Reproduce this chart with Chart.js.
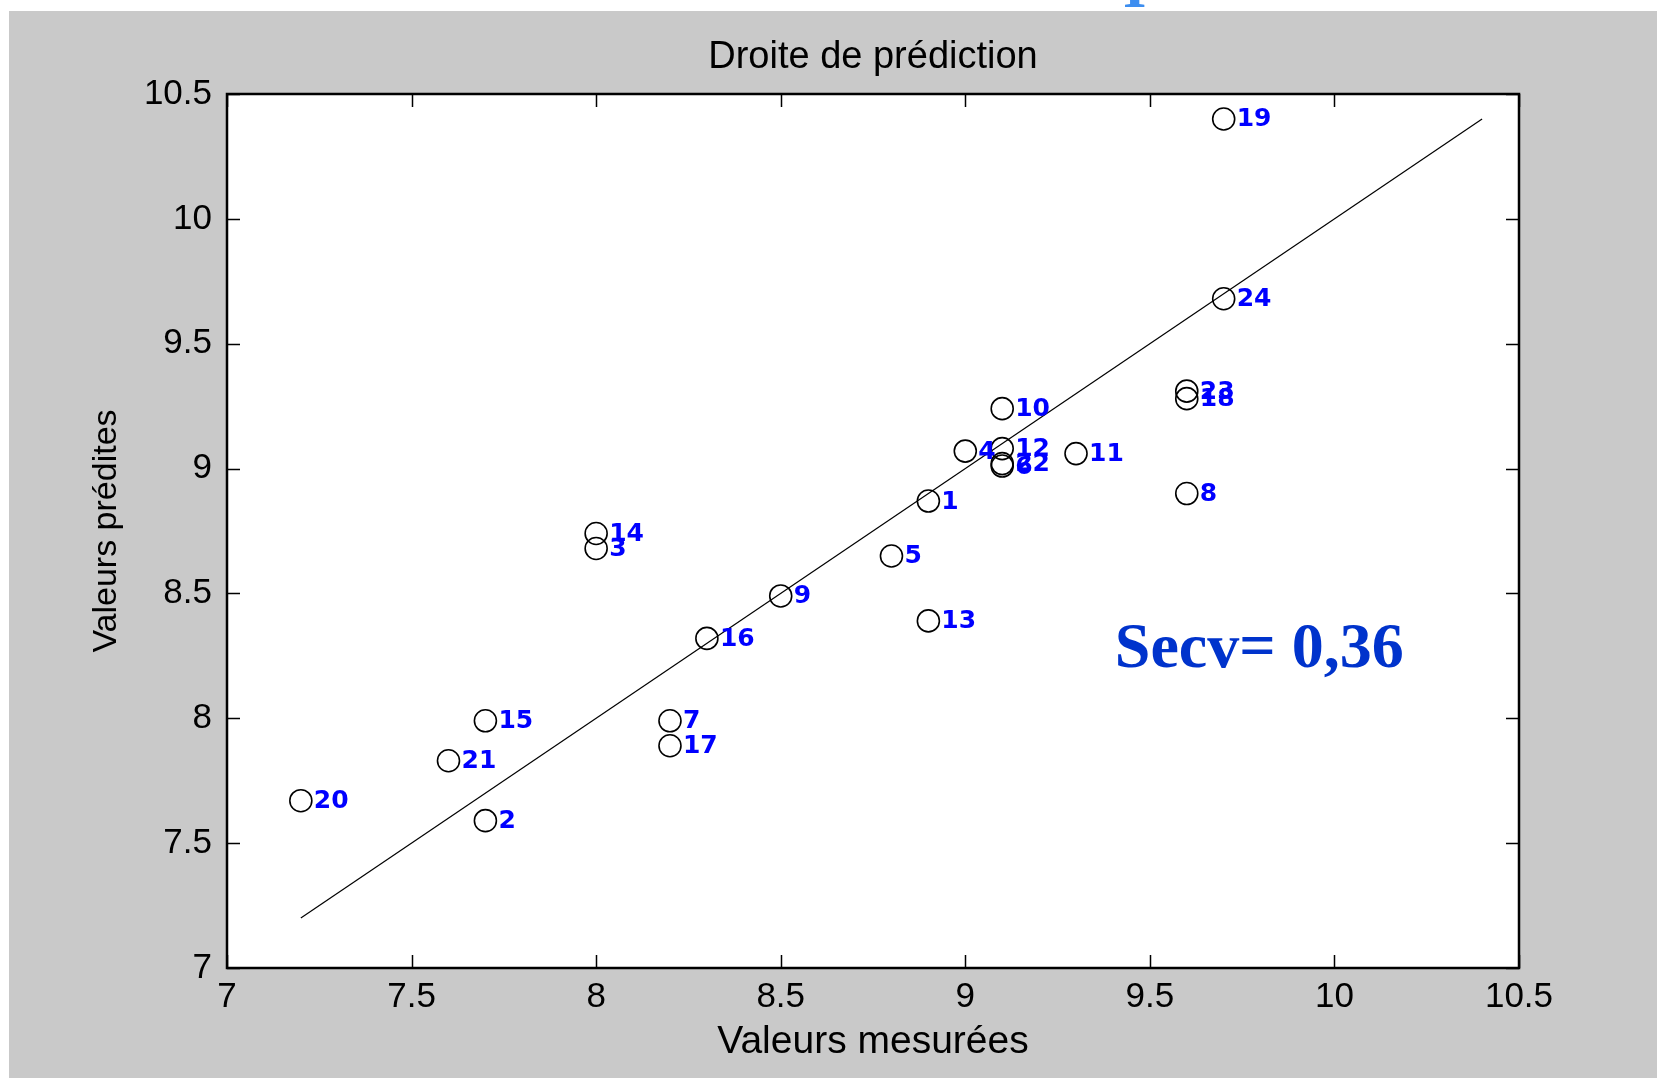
<!DOCTYPE html>
<html>
<head>
<meta charset="utf-8">
<script src="https://cdn.jsdelivr.net/npm/chart.js@4.4.1/dist/chart.umd.min.js"></script>
<style>
  html, body { margin: 0; padding: 0; background: #ffffff; overflow: hidden; }
  #wrap { position: relative; width: 1657px; height: 1078px; }
  canvas { display: block; }
  #frag { position: absolute; left: 1121px; top: 0; width: 36px; height: 8px; overflow: hidden; }
  #frag span { display: block; font: bold 60px 'Liberation Serif', 'Times New Roman', serif; line-height: 60px; color: #3d8ef0; margin-top: -43px; margin-left: 2px; }
</style>
</head>
<body>
<div id="wrap">
  <canvas id="c" width="1657" height="1078"></canvas>
  <div id="frag"><span>I</span></div>
</div>
<script>
// ---- Data ----
const sampleIds = ['1','2','3','4','5','6','7','8','9','10','11','12','13','14','15','16','17','18','19','20','21','22','23','24'];
const measured  = [8.9, 7.7, 8.0, 9.0, 8.8, 9.1, 8.2, 9.6, 8.5, 9.1, 9.3, 9.1, 8.9, 8.0, 7.7, 8.3, 8.2, 9.6, 9.7, 7.2, 7.6, 9.1, 9.6, 9.7];
const predicted = [8.87, 7.59, 8.68, 9.07, 8.65, 9.01, 7.99, 8.90, 8.49, 9.24, 9.06, 9.08, 8.39, 8.74, 7.99, 8.32, 7.89, 9.28, 10.40, 7.67, 7.83, 9.02, 9.31, 9.68];
const lineX = [7.2, 10.4];
const lineY = [7.2, 10.4];
const tickValues = [7, 7.5, 8, 8.5, 9, 9.5, 10, 10.5];
const tickLabels = ['7', '7.5', '8', '8.5', '9', '9.5', '10', '10.5'];
const titleText = 'Droite de prédiction';
const xTitle = 'Valeurs mesurées';
const yTitle = 'Valeurs prédites';
const secvText = 'Secv= 0,36';
const secvAnchor = [9.405, 8.205];

// ---- Build datasets ----
const pts = measured.map((x, i) => ({ x: x, y: predicted[i] }));
const linePts = lineX.map((x, i) => ({ x: x, y: lineY[i] }));

const SANS = "'Liberation Sans', Arial, sans-serif";

const framePlugin = {
  id: 'frame',
  beforeDraw(chart) {
    const ctx = chart.ctx;
    const a = chart.chartArea;
    ctx.save();
    ctx.fillStyle = '#ffffff';
    ctx.fillRect(0, 0, chart.width, chart.height);
    ctx.fillStyle = '#c9c9c9';
    ctx.fillRect(9, 11, chart.width - 9, chart.height - 11);
    ctx.fillStyle = '#ffffff';
    ctx.fillRect(a.left, a.top, a.right - a.left, a.bottom - a.top);
    ctx.restore();
  },
  afterDatasetsDraw(chart) {
    const ctx = chart.ctx;
    const a = chart.chartArea;
    const xs = chart.scales.x, ys = chart.scales.y;
    ctx.save();
    // point labels
    const meta = chart.getDatasetMeta(0);
    ctx.fillStyle = '#0000ff';
    ctx.font = "bold 25px 'DejaVu Sans', Verdana, sans-serif";
    ctx.textAlign = 'left';
    ctx.textBaseline = 'middle';
    meta.data.forEach((el, i) => {
      ctx.fillText(sampleIds[i], el.x + 13, el.y + 1);
    });
    // Secv annotation
    ctx.fillStyle = '#0033cc';
    ctx.font = "bold 64px 'Liberation Serif', 'Times New Roman', serif";
    ctx.textBaseline = 'alphabetic';
    ctx.fillText(secvText, xs.getPixelForValue(secvAnchor[0]), ys.getPixelForValue(secvAnchor[1]));
    // box
    ctx.strokeStyle = '#000000';
    ctx.lineWidth = 2.5;
    ctx.strokeRect(a.left, a.top, a.right - a.left, a.bottom - a.top);
    // inner ticks
    const tl = 13;
    ctx.lineWidth = 1.5;
    ctx.beginPath();
    tickValues.forEach(v => {
      const px = Math.round(xs.getPixelForValue(v)) + 0.5;
      ctx.moveTo(px, a.bottom); ctx.lineTo(px, a.bottom - tl);
      ctx.moveTo(px, a.top); ctx.lineTo(px, a.top + tl);
      const py = Math.round(ys.getPixelForValue(v)) + 0.5;
      ctx.moveTo(a.left, py); ctx.lineTo(a.left + tl, py);
      ctx.moveTo(a.right, py); ctx.lineTo(a.right - tl, py);
    });
    ctx.stroke();
    ctx.restore();
  }
};

new Chart(document.getElementById('c'), {
  type: 'scatter',
  data: {
    datasets: [
      {
        label: 'échantillons',
        data: pts,
        pointStyle: 'circle',
        pointRadius: 11,
        pointHoverRadius: 11,
        borderColor: '#000000',
        backgroundColor: 'rgba(0,0,0,0)',
        borderWidth: 1.6,
        showLine: false
      },
      {
        label: 'droite',
        type: 'line',
        data: linePts,
        showLine: true,
        borderColor: '#000000',
        borderWidth: 1.2,
        pointRadius: 0,
        fill: false
      }
    ]
  },
  options: {
    responsive: false,
    animation: false,
    devicePixelRatio: 1,
    layout: { padding: { top: 0, left: 0, right: 138, bottom: 0 } },
    plugins: {
      legend: { display: false },
      tooltip: { enabled: false },
      title: {
        display: true,
        fullSize: false,
        text: titleText,
        color: '#000000',
        font: { family: SANS, size: 38, weight: 'normal', lineHeight: 1.2 },
        padding: { top: 35, bottom: 13.4 }
      }
    },
    scales: {
      x: {
        type: 'linear',
        min: 7, max: 10.5,
        afterFit(scale) { scale.height = 110; },
        afterBuildTicks(scale) { scale.ticks = tickValues.map(v => ({ value: v })); },
        grid: { display: false, drawTicks: false },
        border: { display: false },
        ticks: {
          color: '#000000',
          font: { family: SANS, size: 35 },
          padding: 8,
          maxRotation: 0,
          autoSkip: false,
          callback: (v) => { const i = tickValues.indexOf(v); return i >= 0 ? tickLabels[i] : ''; }
        },
        title: {
          display: true,
          text: xTitle,
          color: '#000000',
          font: { family: SANS, size: 39, lineHeight: 1.2 },
          padding: { top: 0, bottom: 12 }
        }
      },
      y: {
        type: 'linear',
        min: 7, max: 10.5,
        afterFit(scale) { scale.width = 227; },
        afterBuildTicks(scale) { scale.ticks = tickValues.map(v => ({ value: v })); },
        grid: { display: false, drawTicks: false },
        border: { display: false },
        ticks: {
          color: '#000000',
          font: { family: SANS, size: 35 },
          padding: 15,
          autoSkip: false,
          callback: (v) => { const i = tickValues.indexOf(v); return i >= 0 ? tickLabels[i] : ''; }
        },
        title: {
          display: true,
          text: yTitle,
          color: '#000000',
          font: { family: SANS, size: 34, lineHeight: 1.2 },
          padding: { top: 86, bottom: 0 }
        }
      }
    }
  },
  plugins: [framePlugin]
});
</script>
</body>
</html>
